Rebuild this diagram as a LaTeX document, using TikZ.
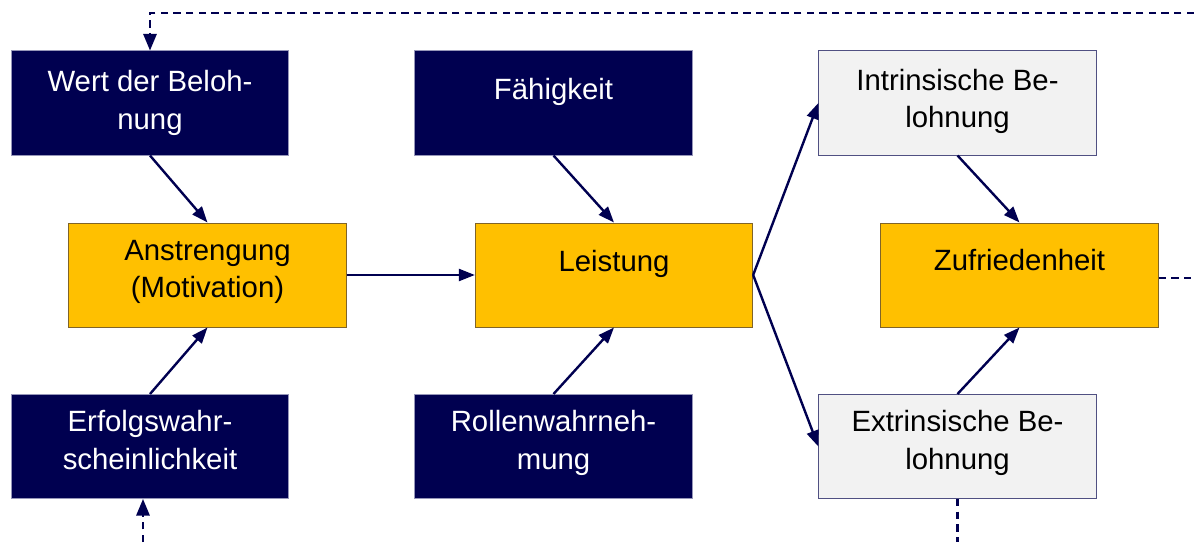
\documentclass[tikz,border=0pt]{standalone}
\usepackage{fontspec}
\setmainfont{Liberation Sans}
\usetikzlibrary{arrows.meta,calc}
\definecolor{navy}{RGB}{0,0,80}
\definecolor{gold}{RGB}{255,192,0}
\definecolor{lightg}{RGB}{242,242,242}
\definecolor{goldborder}{RGB}{128,100,40}
\definecolor{navyborder}{RGB}{150,150,185}
\definecolor{greyborder}{RGB}{80,80,130}
\begin{document}
\begin{tikzpicture}[x=0.75pt,y=-0.75pt,
  box/.style={rectangle, inner sep=0pt, minimum width=208pt, minimum height=78pt, line width=0.75pt},
  navybox/.style={box, fill=navy, draw=navyborder},
  goldbox/.style={box, fill=gold, draw=goldborder},
  greybox/.style={box, fill=lightg, draw=greyborder},
  txt/.style={anchor=base, inner sep=0pt, font=\fontsize{22}{27}\selectfont},
  wtxt/.style={txt, text=white},
  btxt/.style={txt, text=black},
  conn/.style={draw=navy, line width=1.8pt, -{Triangle[length=12pt,width=9pt]}},
  dconn/.style={draw=navy, line width=1.6pt, dash pattern=on 5.5pt off 4pt},
  dconnarrow/.style={dconn, -{Triangle[length=12.5pt,width=10pt]}}
]
\useasboundingbox (0,0) rectangle (1194,542);

% boxes
\node[navybox] (wert)  at (150,103) {};
\node[navybox] (faeh)  at (553.5,103) {};
\node[greybox] (intr)  at (957.5,103) {};
\node[goldbox] (anstr) at (207.5,275) {};
\node[goldbox] (leist) at (614,275) {};
\node[goldbox] (zuf)   at (1019.5,275) {};
\node[navybox] (erf)   at (150,446.5) {};
\node[navybox] (rolle) at (553.5,446.5) {};
\node[greybox] (extr)  at (957.5,446.5) {};

% texts
\node[wtxt] (wertA) at (150,91) {Wert der Beloh-};
\node[wtxt] (wertB) at (150,129) {nung};
\node[wtxt] (faehA) at (553.5,99) {Fähigkeit};
\node[btxt] (intrA) at (957.5,90) {Intrinsische Be-};
\node[btxt] (intrB) at (957.5,127) {lohnung};
\node[btxt] (anstrA) at (207.5,260) {Anstrengung};
\node[btxt] (anstrB) at (207.5,297) {(Motivation)};
\node[btxt] (leistA) at (614,271) {Leistung};
\node[btxt] (zufA) at (1019.5,270) {Zufriedenheit};
\node[wtxt] (erfA) at (150,431) {Erfolgswahr-};
\node[wtxt] (erfB) at (150,469) {scheinlichkeit};
\node[wtxt] (rolleA) at (553.5,431) {Rollenwahrneh-};
\node[wtxt] (rolleB) at (553.5,469) {mung};
\node[btxt] (extrA) at (957.5,431) {Extrinsische Be-};
\node[btxt] (extrB) at (957.5,469) {lohnung};

% solid connectors
\draw[conn] (wert.south) -- (anstr.north);
\draw[conn] (erf.north) -- (anstr.south);
\draw[conn] (faeh.south) -- (leist.north);
\draw[conn] (rolle.north) -- (leist.south);
\draw[conn] (intr.south) -- (zuf.north);
\draw[conn] (extr.north) -- (zuf.south);
\draw[conn] (anstr.east) -- (leist.west);
\draw[conn] (leist.east) -- (intr.west);
\draw[conn] (leist.east) -- (extr.west);

% dashed feedback lines
\coordinate (topR) at (1194,13);
\coordinate (botL) at (143,542);
\coordinate (rightE) at (1194,278);
\coordinate (botE) at (957.5,542);
\draw[dconnarrow] (topR) -| (wert.north);
\draw[dconnarrow] (botL) -- (botL |- erf.south);
\draw[dconn] (zuf.east |- rightE) -- (rightE);
\draw[dconn] (extr.south) -- (botE);
\end{tikzpicture}
\end{document}
